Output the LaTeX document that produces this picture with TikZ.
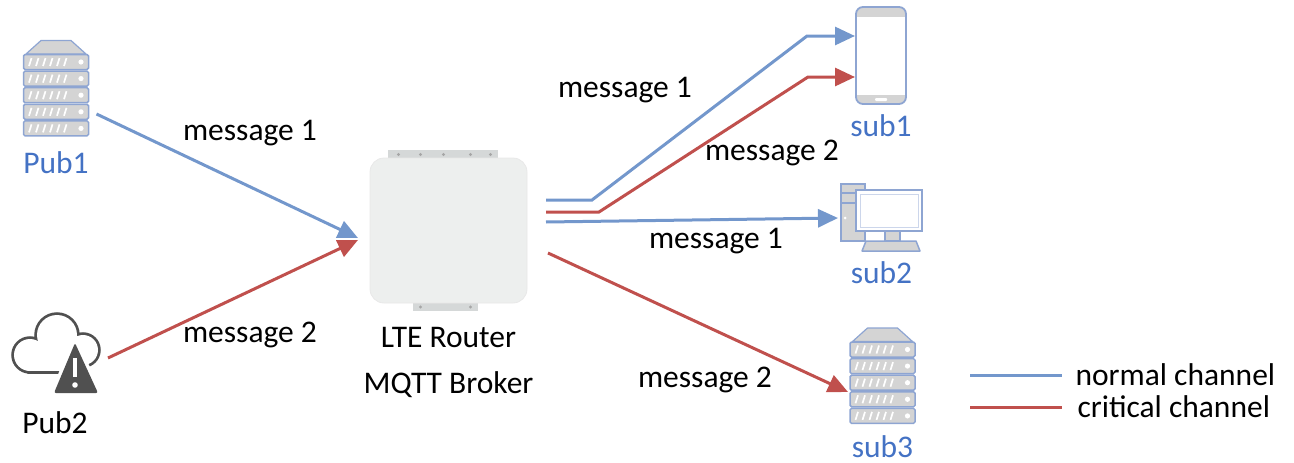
\documentclass[tikz,border=0pt]{standalone}
\usepackage{fontspec}
\setmainfont{Carlito}
\usetikzlibrary{arrows.meta,positioning}

\definecolor{normalblue}{HTML}{7397CC}
\definecolor{criticalred}{HTML}{C0504D}
\definecolor{labelblue}{HTML}{4472C4}
\definecolor{iconedge}{HTML}{8EA5D2}
\definecolor{icongray}{HTML}{D4D4D4}
\definecolor{clouddark}{HTML}{505050}
\definecolor{routerbody}{HTML}{EDEFEE}
\definecolor{routerplate}{HTML}{D5D8D8}

\tikzset{font={\fontsize{31.5pt}{38pt}\selectfont}}

\tikzset{
  icon/.style={inner sep=0pt, outer sep=0pt},
  device/.style={text=labelblue, inner sep=0pt},
  plain/.style={inner sep=0pt},
  normal/.style={normalblue, line width=3pt},
  critical/.style={criticalred, line width=3pt},
  % rack server: lid on top of five slabs
  rack/.pic={
    \filldraw[icongray, draw=iconedge, line width=1.2pt, line join=round]
      (-15,-48.5) -- (15,-48.5) -- (30,-35) -- (-30,-35) -- cycle;
    \foreach \i in {0,...,4} {
      \filldraw[icongray, draw=iconedge, line width=1.5pt, rounded corners=1.5pt]
        (-32.5,-34.5+16.6*\i) rectangle (32.5,-19.5+16.6*\i);
      \foreach \s in {0,...,5}
        \draw[white, line width=1.7pt] (-27+7*\s,-23+16.6*\i) -- (-24.5+7*\s,-31+16.6*\i);
      \fill[white] (25,-27+16.6*\i) circle (2.6);
    }
  },
  % cloud with a warning sign
  alertcloud/.pic={
    \draw[clouddark, line width=5.5pt]
      (-25,1) circle (16) (2,-19) circle (20) (28,-4) circle (15)
      (-25,-9) rectangle (28,17);
    \fill[white] (-25,1) circle (16);
    \fill[white] (2,-19) circle (20);
    \fill[white] (28,-4) circle (15);
    \fill[white] (-25,-9) rectangle (28,17);
    \draw[white, line width=7pt, line join=round] (20,-11) -- (43,39) -- (-1,39) -- cycle;
    \fill[clouddark, rounded corners=2pt] (20,-11) -- (43,39) -- (-1,39) -- cycle;
    \draw[white, line width=4.5pt] (20,4) -- (20,23);
    \fill[white] (20,31) circle (2.8);
  },
  % smartphone
  phone/.pic={
    \fill[white, rounded corners=7pt] (-25,-48.5) rectangle (25,48.5);
    \begin{scope}
      \clip[rounded corners=7pt] (-25,-48.5) rectangle (25,48.5);
      \fill[icongray] (-25,-48.5) rectangle (25,-39);
      \fill[icongray] (-25,39) rectangle (25,48.5);
    \end{scope}
    \draw[iconedge, line width=1.8pt, rounded corners=7pt] (-25,-48.5) rectangle (25,48.5);
    \fill[white, rounded corners=1pt] (-6,42.5) rectangle (6,45.5);
  },
  % desktop: tower, monitor, keyboard
  desktop/.pic={
    \filldraw[icongray, draw=iconedge, line width=1.5pt] (-40.5,-33.5) rectangle (-16.5,23.5);
    \draw[iconedge, line width=1.2pt] (-40.5,-24.5) -- (-16.5,-24.5) (-40.5,-14.5) -- (-16.5,-14.5);
    \fill[white] (-36.5,0.5) circle (1.5);
    \filldraw[icongray, draw=iconedge, line width=1.2pt] (3.5,13.5) rectangle (18.5,23.5);
    \filldraw[icongray, draw=iconedge, line width=1.5pt, line join=round]
      (-15.5,23.5) -- (34.5,23.5) -- (38.5,33.5) -- (-19.5,33.5) -- cycle;
    \filldraw[white, draw=iconedge, line width=2pt] (-25.5,-27.5) rectangle (40.5,13.5);
    \draw[iconedge!45, line width=1pt] (-21.5,-23.5) rectangle (36.5,9.5);
  },
  % LTE router housing with its mounting plates
  router/.pic={
    \fill[routerplate] (-60.5,-80.5) rectangle (49.5,-68);
    \fill[routerplate] (-35.5,68) rectangle (29.5,80.5);
    \foreach \x in {-50,-28,-5,22,42}
      \fill[gray!70] (\x,-76) circle (1.6);
    \foreach \x in {-28,22}
      \fill[gray!70] (\x,76.5) circle (1.6);
    \filldraw[routerbody, draw=gray!18, line width=0.8pt, rounded corners=14pt]
      (-78.5,-72.5) rectangle (78.5,72.5);
  }
}

\begin{document}
\begin{tikzpicture}[x=1pt, y=-1pt, >={Triangle[length=20pt,width=18pt]}]
  \useasboundingbox (0,0) rectangle (1294,463);

  % devices
  \node[icon, minimum width=65pt, minimum height=97pt] (pub1) at (56,89) {};
  \pic at (pub1) {rack};
  \node[icon, minimum width=90pt, minimum height=78pt] (pub2) at (55,354) {};
  \pic at (pub2) {alertcloud};
  \node[icon, minimum width=157pt, minimum height=161pt] (broker) at (448.5,230.5) {};
  \pic at (broker) {router};
  \node[icon, minimum width=50pt, minimum height=97pt] (sub1) at (881,55.5) {};
  \pic at (sub1) {phone};
  \node[icon, minimum width=81pt, minimum height=67pt] (sub2) at (881.5,217.5) {};
  \pic at (sub2) {desktop};
  \node[icon, minimum width=65pt, minimum height=99pt] (sub3) at (882.5,376.5) {};
  \pic at (sub3) {rack};

  % device names
  \node[device, below=14pt of pub1] (pub1name) {Pub1};
  \node[plain, below=18pt of pub2] (pub2name) {Pub2};
  \node[device, below=10pt of sub1] (sub1name) {sub1};
  \node[device, below=10pt of sub2] (sub2name) {sub2};
  \node[device, below=9pt of sub3] (sub3name) {sub3};
  \node[plain, below=16pt of broker] (lte) {LTE Router};
  \node[plain, below=24pt of lte] (mqtt) {MQTT Broker};

  % publishers to broker
  \draw[normal, ->] ([shift={(8,25)}]pub1.east) -- ([shift={(-12,7.5)}]broker.west);
  \draw[critical, ->] ([shift={(8,4)}]pub2.east) -- ([shift={(-12,9.5)}]broker.west);

  % broker to subscribers
  \draw[normal, ->] ([shift={(19,-30.5)}]broker.east) -- ++(46,0) -- (807,36)
    -- ([shift={(-1,-19.5)}]sub1.west);
  \draw[critical, ->] ([shift={(19,-18.5)}]broker.east) -- ++(53,0) -- (808,77)
    -- ([shift={(-1,21.5)}]sub1.west);
  \draw[normal, ->] ([shift={(19,-8.5)}]broker.east) -- ([shift={(-3,0.5)}]sub2.west);
  \draw[critical, ->] ([shift={(21,22.5)}]broker.east) -- ([shift={(-2,15.5)}]sub3.west);

  % message labels
  \node[plain] (m1in) at (250,133) {message 1};
  \node[plain] (m2in) at (250,335) {message 2};
  \node[plain] (m1out) at (625,90) {message 1};
  \node[plain] (m2out) at (772,153) {message 2};
  \node[plain] (m1pc) at (716,241) {message 1};
  \node[plain] (m2srv) at (705,380) {message 2};

  % legend
  \coordinate (keynormal) at (970,375);
  \coordinate (keycritical) at (970,407);
  \draw[normal] (keynormal) -- ++(92,0) node[plain, right=12pt, black] {normal channel};
  \draw[critical] (keycritical) -- ++(92,0) node[plain, right=14pt, black] {critical channel};
\end{tikzpicture}
\end{document}
